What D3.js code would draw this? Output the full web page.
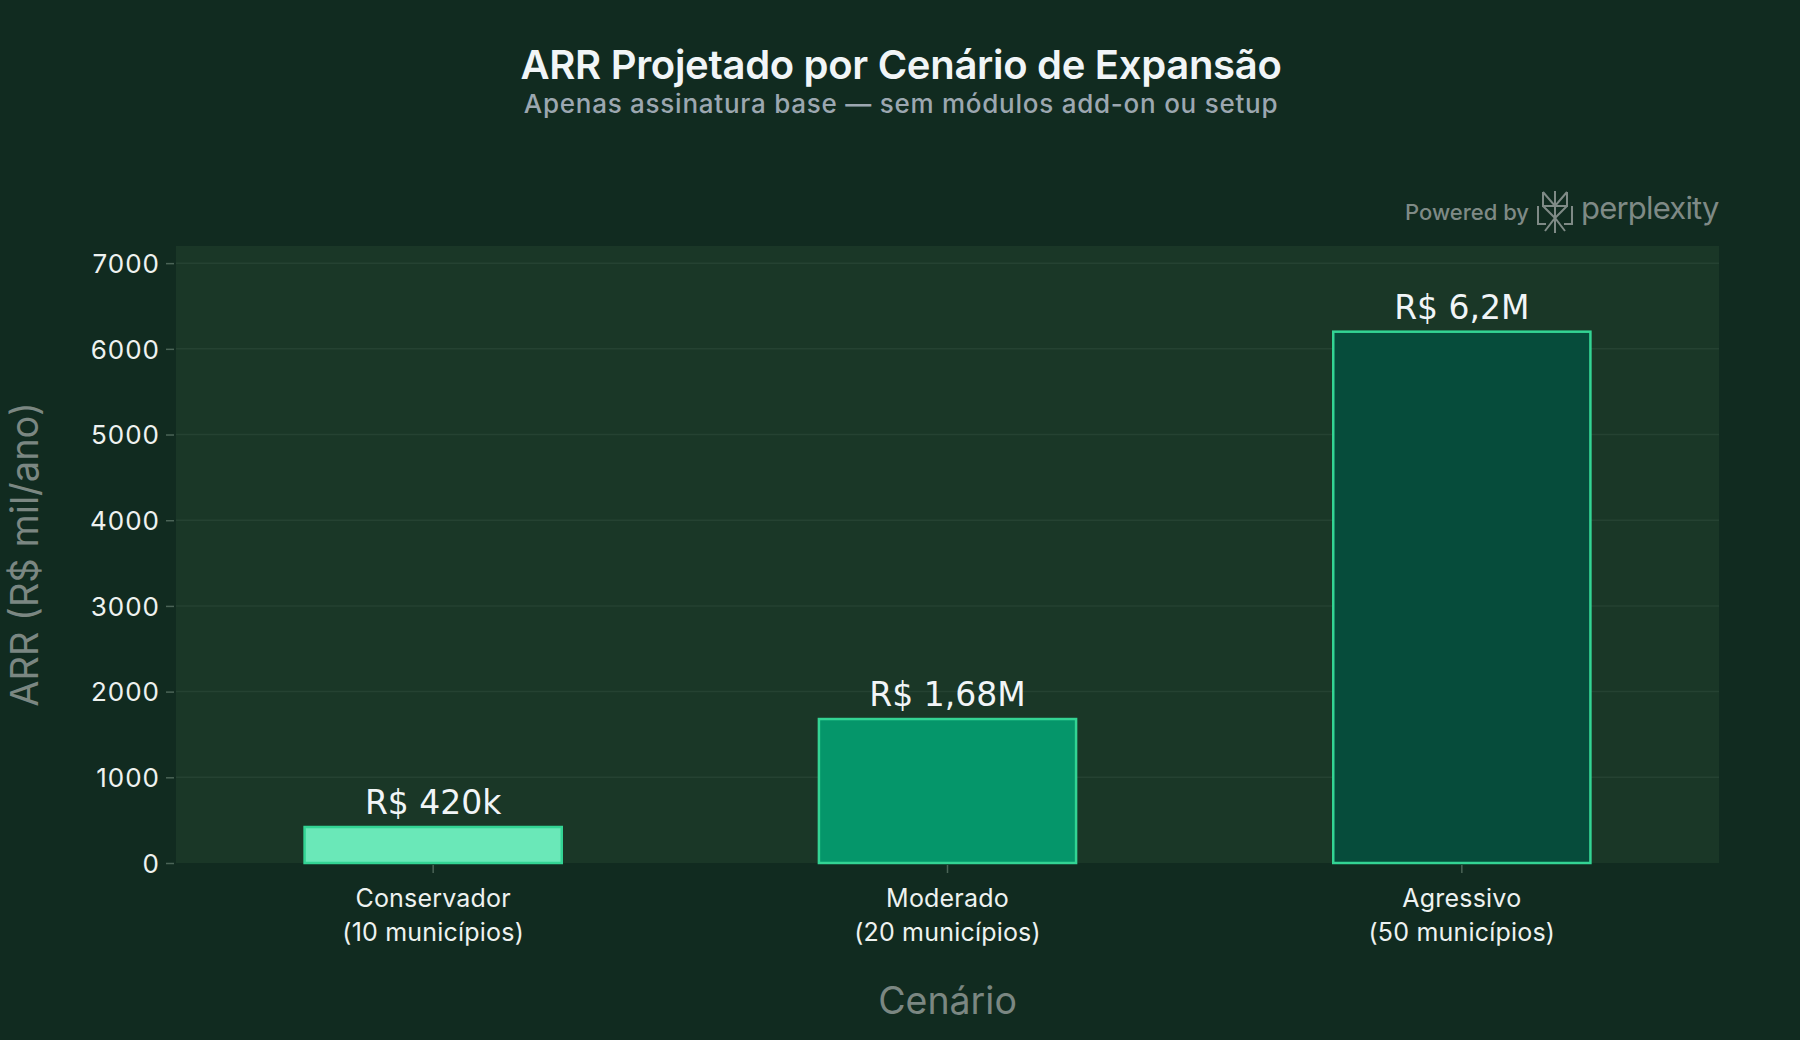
<!DOCTYPE html>
<html>
<head>
<meta charset="utf-8">
<script src="https://cdn.jsdelivr.net/npm/d3@7"></script>
<style>
  html, body { margin: 0; padding: 0; background: #112b20; }
  svg { display: block; }
</style>
</head>
<body>
<div id="chart"></div>
<script>
// chart data
var scenarios = ["Conservador", "Moderado", "Agressivo"];
var scenarioNotes = ["(10 municípios)", "(20 municípios)", "(50 municípios)"];
var arrValues = [420, 1680, 6200];
var barLabels = ["R$ 420k", "R$ 1,68M", "R$ 6,2M"];
var barColors = ["#6ae8b8", "#05966a", "#064c3b"];
var yTicks = [0, 1000, 2000, 3000, 4000, 5000, 6000, 7000];

var width = 1800, height = 1040;
var margin = { top: 246, right: 81, bottom: 177, left: 176 };
var plotW = width - margin.left - margin.right;
var plotH = height - margin.top - margin.bottom;

var svg = d3.select("#chart").append("svg")
  .attr("width", width)
  .attr("height", height);

svg.append("rect")
  .attr("width", width).attr("height", height)
  .attr("fill", "#112b20");

// title + subtitle
svg.append("text")
  .attr("x", 901).attr("y", 79)
  .attr("text-anchor", "middle")
  .attr("font-family", "Inter, sans-serif")
  .attr("font-weight", 600)
  .attr("font-size", 40)
  .attr("letter-spacing", -0.3)
  .attr("fill", "#f1f5f7")
  .text("ARR Projetado por Cenário de Expansão");

svg.append("text")
  .attr("x", 901).attr("y", 113)
  .attr("text-anchor", "middle")
  .attr("font-family", "Inter, sans-serif")
  .attr("font-weight", 500)
  .attr("font-size", 26)
  .attr("letter-spacing", 0.75)
  .attr("fill", "#9ca7b0")
  .text("Apenas assinatura base — sem módulos add-on ou setup");

var g = svg.append("g")
  .attr("transform", "translate(" + margin.left + "," + margin.top + ")");

// plot background
g.append("rect")
  .attr("width", plotW).attr("height", plotH)
  .attr("fill", "#1a3727");

var x = d3.scaleBand()
  .domain(scenarios)
  .range([0, plotW])
  .paddingInner(0.5)
  .paddingOuter(0.25);

var y = d3.scaleLinear()
  .domain([0, 7200])
  .range([plotH, 0]);

// gridlines
g.selectAll(".grid")
  .data(yTicks.filter(d => d > 0))
  .enter().append("line")
  .attr("x1", 0).attr("x2", plotW)
  .attr("y1", d => y(d)).attr("y2", d => y(d))
  .attr("stroke", "#254232")
  .attr("stroke-width", 1.5);

// y axis
var yAxis = g.append("g")
  .call(d3.axisLeft(y).tickValues(yTicks).tickSize(10).tickPadding(6).tickFormat(d3.format("d")));
yAxis.select(".domain").remove();
yAxis.selectAll(".tick line").attr("stroke", "#4b6457").attr("stroke-width", 1.5).attr("x1", -2);
yAxis.selectAll(".tick text")
  .attr("fill", "#eef2f0")
  .attr("font-family", "Inter, sans-serif")
  .attr("font-size", 26)
  .attr("letter-spacing", 1)
  .attr("dy", "0.36em");

// x axis
var xAxis = g.append("g")
  .attr("transform", "translate(0," + plotH + ")")
  .call(d3.axisBottom(x).tickSize(10).tickFormat(""));
xAxis.select(".domain").remove();
xAxis.selectAll(".tick line").attr("stroke", "#4b6457").attr("stroke-width", 1.5).attr("y1", 2);
xAxis.selectAll(".tick").each(function(d, i) {
  var t = d3.select(this).append("text")
    .attr("fill", "#eef2f0")
    .attr("font-family", "Inter, sans-serif")
    .attr("font-size", 25)
    .attr("letter-spacing", 0.2)
    .attr("text-anchor", "middle");
  t.append("tspan").attr("x", 0).attr("y", 44).text(d);
  t.append("tspan").attr("x", 0).attr("y", 78).text(scenarioNotes[i]);
});

// bars
g.selectAll(".bar")
  .data(arrValues)
  .enter().append("rect")
  .attr("x", (d, i) => x(scenarios[i]))
  .attr("y", d => y(d))
  .attr("width", x.bandwidth())
  .attr("height", d => plotH - y(d))
  .attr("fill", (d, i) => barColors[i])
  .attr("stroke", "#33d494")
  .attr("stroke-width", 2.5);

// value labels
g.selectAll(".lbl")
  .data(arrValues)
  .enter().append("text")
  .attr("x", (d, i) => x(scenarios[i]) + x.bandwidth() / 2)
  .attr("y", d => y(d) - 13)
  .attr("text-anchor", "middle")
  .attr("font-family", "DejaVu Sans, sans-serif")
  .attr("font-size", 33)
  .attr("fill", "#f1f5f7")
  .text((d, i) => barLabels[i]);

// axis titles
svg.append("text")
  .attr("x", margin.left + plotW / 2).attr("y", 1014)
  .attr("text-anchor", "middle")
  .attr("font-family", "Inter, sans-serif")
  .attr("font-size", 37.5)
  .attr("fill", "#7b8782")
  .text("Cenário");

svg.append("text")
  .attr("transform", "translate(38," + (margin.top + plotH / 2) + ") rotate(-90)")
  .attr("text-anchor", "middle")
  .attr("font-family", "Inter, sans-serif")
  .attr("font-size", 38)
  .attr("fill", "#7b8782")
  .text("ARR (R$ mil/ano)");

// powered by perplexity badge
var logo = svg.append("g").attr("fill", "#7f8a86");
logo.append("text")
  .attr("x", 1405).attr("y", 220)
  .attr("font-family", "Inter, sans-serif")
  .attr("font-weight", 500)
  .attr("font-size", 22)
  .text("Powered by");
var icon = svg.append("g")
  .attr("transform", "translate(1555,212)")
  .attr("fill", "none")
  .attr("stroke", "#7f8a86")
  .attr("stroke-width", 2);
icon.append("path").attr("d", "M0,-21 V21 M-12,-20 L0,-6 L12,-20 M-12,-20 V-6 H12 V-20 M-17,-6 V12 H-9 M17,-6 V12 H9 M-10,19 L0,6 L10,19 M-12,-6 L0,6 L12,-6");
logo.append("text")
  .attr("x", 1581).attr("y", 219)
  .attr("font-family", "Inter, sans-serif")
  .attr("font-size", 31)
  .attr("letter-spacing", -0.8)
  .text("perplexity");
</script>
</body>
</html>
